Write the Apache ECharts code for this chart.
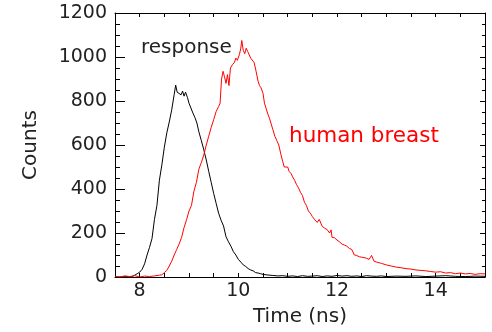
<!DOCTYPE html>
<html>
<head>
<meta charset="utf-8">
<script src="https://cdn.jsdelivr.net/npm/echarts@6/dist/echarts.min.js"></script>
<style>html,body{margin:0;padding:0;background:#fff;}#c{width:492px;height:332px;}</style>
</head>
<body>
<div id="c"></div>
<script>
// ---- data ----
const xTickLabels = [8, 10, 12, 14];
const yTickLabels = [0, 200, 400, 600, 800, 1000, 1200];

const responseTime = [7.5,7.6,7.7,7.8,7.85,7.9,7.95,8.0,8.05,8.1,8.15,8.2,8.25,8.3,8.35,8.4,8.45,8.5,8.55,8.6,8.65,8.7,8.73,8.76,8.8,8.84,8.87,8.9,8.93,8.97,9.0,9.04,9.08,9.12,9.16,9.2,9.25,9.3,9.35,9.4,9.45,9.5,9.55,9.6,9.65,9.7,9.75,9.8,9.85,9.9,9.95,10.0,10.05,10.1,10.15,10.2,10.25,10.3,10.35,10.4,10.45,10.5,10.6,10.7,10.8,10.9,11.0,11.1,11.2,11.3,11.4,11.5,11.6,11.7,11.8,11.9,12.0,12.1,12.2,12.3,12.4,12.5,12.6,12.7,12.8,12.9,13.0,13.2,13.4,13.6,13.8,14.0,14.2,14.4,14.6,14.8,15.0];
const responseCounts = [0,0,2,0,3,8,15,22,35,60,100,135,175,262,325,440,510,590,655,705,760,830,872,840,848,828,845,822,840,815,790,798,745,725,700,660,620,578,532,480,430,380,335,290,258,232,183,160,140,115,100,80,68,55,48,38,32,28,20,18,15,12,9,7,5,6,3,5,2,6,3,4,6,2,5,3,7,4,6,3,5,2,6,4,3,5,2,4,3,5,2,4,6,3,2,4,3];

const breastTime = [7.5,7.6,7.7,7.8,7.9,8.0,8.1,8.2,8.3,8.4,8.45,8.5,8.55,8.6,8.65,8.7,8.75,8.8,8.85,8.9,8.95,9.0,9.05,9.1,9.15,9.2,9.25,9.3,9.35,9.4,9.45,9.5,9.55,9.6,9.63,9.66,9.69,9.72,9.75,9.78,9.81,9.84,9.88,9.92,9.95,9.98,10.02,10.05,10.07,10.1,10.13,10.16,10.19,10.22,10.25,10.28,10.32,10.36,10.4,10.43,10.46,10.5,10.53,10.56,10.6,10.63,10.66,10.7,10.74,10.78,10.82,10.86,10.9,10.93,10.96,11.0,11.03,11.07,11.1,11.14,11.18,11.22,11.26,11.3,11.34,11.38,11.42,11.46,11.5,11.55,11.6,11.64,11.7,11.75,11.8,11.85,11.88,11.9,11.95,12.0,12.05,12.1,12.15,12.2,12.25,12.3,12.35,12.4,12.45,12.5,12.55,12.6,12.65,12.7,12.75,12.8,12.9,13.0,13.1,13.2,13.3,13.4,13.5,13.6,13.7,13.8,13.9,14.0,14.1,14.2,14.3,14.4,14.5,14.6,14.7,14.8,14.9,15.0];
const breastCounts = [3,0,5,2,6,0,4,2,5,8,10,20,30,50,72,100,125,150,180,225,260,300,325,390,430,490,520,555,600,640,680,715,752,775,790,900,935,910,880,920,870,950,965,975,995,985,1010,1040,1075,1030,1015,1040,1025,1030,995,1000,975,935,890,870,860,835,790,768,740,722,700,670,640,620,600,560,525,500,495,500,480,470,455,440,420,405,385,370,340,325,300,290,275,260,248,262,230,222,215,200,214,180,178,168,160,150,145,140,130,125,100,98,92,90,88,85,80,98,72,68,62,55,50,45,42,38,36,32,30,28,25,22,24,18,20,15,18,14,16,12,15,14];

const responseData = responseTime.map((t, i) => [t, responseCounts[i]]);
const breastData = breastTime.map((t, i) => [t, breastCounts[i]]);

const FONT = 'DejaVu Sans';
const chart = echarts.init(document.getElementById('c'), null, {renderer: 'canvas'});
const axLine = {show: true, onZero: false, lineStyle: {color: '#000', width: 1}};
const noShow = {show: false};
const xLabelFmt = v => (xTickLabels.indexOf(Math.round(v * 1000) / 1000) >= 0 ? String(v) : '');
const yLabelFmt = v => (yTickLabels.indexOf(v) >= 0 ? String(v) : '');

chart.setOption({
  animation: false,
  backgroundColor: '#fff',
  grid: {left: 115, right: 7, top: 13, bottom: 55, containLabel: false},
  xAxis: [
    { type: 'value', position: 'bottom', min: 7.5, max: 15, interval: 0.5,
      name: 'Time (ns)', nameLocation: 'middle', nameGap: 30,
      nameTextStyle: {fontFamily: FONT, fontSize: 20, color: '#222'},
      axisLine: axLine, splitLine: noShow,
      axisTick: {show: true, inside: true, length: 4, lineStyle: {color: '#000', width: 1}},
      axisLabel: {show: true, formatter: xLabelFmt, margin: 5, fontFamily: FONT, fontSize: 19, color: '#222', showMinLabel: false, showMaxLabel: false} },
    { type: 'value', position: 'top', min: 7.5, max: 15, interval: 0.5,
      axisLine: axLine, splitLine: noShow,
      axisTick: {show: true, inside: true, length: 4, lineStyle: {color: '#000', width: 1}},
      axisLabel: noShow }
  ],
  yAxis: [
    { type: 'value', position: 'left', min: 0, max: 1200, interval: 200,
      name: 'Counts', nameLocation: 'middle', nameGap: 74, nameRotate: 90,
      nameTextStyle: {fontFamily: FONT, fontSize: 20, color: '#222'},
      axisLine: axLine, splitLine: noShow,
      axisTick: {show: true, inside: true, length: 10, lineStyle: {color: '#000', width: 1}},
      minorTick: {show: true, splitNumber: 4, length: 5, lineStyle: {color: '#000', width: 1}},
      axisLabel: {show: true, formatter: yLabelFmt, margin: 8, fontFamily: FONT, fontSize: 19, color: '#222'} },
    { type: 'value', position: 'right', min: 0, max: 1200, interval: 200,
      axisLine: axLine, splitLine: noShow,
      axisTick: {show: true, inside: true, length: 5, lineStyle: {color: '#000', width: 1}},
      minorTick: {show: true, splitNumber: 4, length: 3, lineStyle: {color: '#000', width: 1}},
      axisLabel: noShow }
  ],
  series: [
    { type: 'line', name: 'response', data: responseData, xAxisIndex: 0, yAxisIndex: 0,
      showSymbol: false, symbol: 'none', lineStyle: {color: '#000', width: 1}, z: 3 },
    { type: 'line', name: 'human breast', data: breastData, xAxisIndex: 0, yAxisIndex: 0,
      showSymbol: false, symbol: 'none', lineStyle: {color: '#ff0000', width: 1}, z: 4 }
  ],
  graphic: [
    { type: 'text', x: 141, y: 58, style: {text: 'response', fill: '#222', font: '20px "DejaVu Sans"', textAlign: 'left', textVerticalAlign: 'bottom'} },
    { type: 'text', x: 289, y: 147, style: {text: 'human breast', fill: '#ff0000', font: '21.5px "DejaVu Sans"', textAlign: 'left', textVerticalAlign: 'bottom'} }
  ]
});
</script>
</body>
</html>
